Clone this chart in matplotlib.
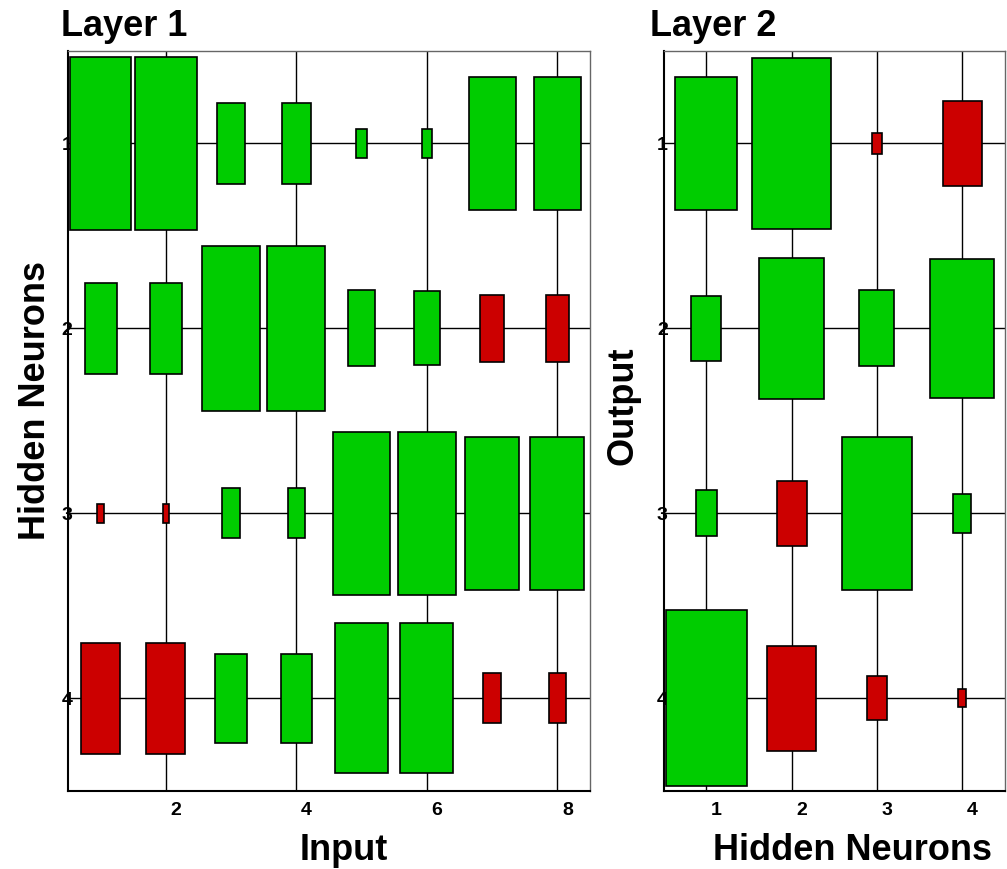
import numpy as np
import matplotlib.pyplot as plt
from matplotlib.patches import Rectangle
from matplotlib.transforms import ScaledTranslation

plt.rcParams['font.family'] = ['Liberation Sans', 'DejaVu Sans']

# signed box sizes (side length in data units), rows = neuron, cols = input
layer1 = np.array([
    [0.94, 0.94, 0.44, 0.44, 0.16, 0.16, 0.72, 0.72],
    [0.49, 0.49, 0.89, 0.89, 0.41, 0.40, -0.36, -0.36],
    [-0.10, -0.10, 0.27, 0.27, 0.88, 0.88, 0.83, 0.83],
    [-0.60, -0.60, 0.48, 0.48, 0.81, 0.81, -0.27, -0.27],
])
layer2 = np.array([
    [0.72, 0.92, -0.11, -0.46],
    [0.35, 0.76, 0.41, 0.75],
    [0.25, -0.35, 0.83, 0.21],
    [0.95, -0.57, -0.24, -0.095],
])
layer1_xticks = [2, 4, 6, 8]
layer2_xticks = [1, 2, 3, 4]
yticks = [1, 2, 3, 4]

green = '#00cc00'
red = '#cc0000'

fig = plt.figure(figsize=(10.07, 8.69), dpi=100)
ax1 = fig.add_axes([0.0675, 0.0901, 0.5184, 0.8512])
ax2 = fig.add_axes([0.6589, 0.0901, 0.3391, 0.8512])


def hinton(ax, w, xticks, title, xlabel, ylabel, title_x, xlab_x, ylab_x, ylab_y):
    nrow, ncol = w.shape
    for i in range(nrow):
        for j in range(ncol):
            v = w[i, j]
            s = abs(v)
            c = green if v > 0 else red
            ax.add_patch(Rectangle((j + 1 - s / 2, i + 1 - s / 2), s, s,
                                   facecolor=c, edgecolor='black', lw=1.2, zorder=3))
    ax.set_xlim(0.5, ncol + 0.5)
    ax.set_ylim(nrow + 0.5, 0.5)
    ax.set_xticks(xticks)
    ax.set_yticks(yticks)
    ax.set_axisbelow(True)
    ax.grid(True, color='black', lw=1)
    ax.tick_params(length=0, labelsize=14)
    ax.tick_params(axis='x', pad=8)
    ax.tick_params(axis='y', pad=-3)
    for lab in ax.get_xticklabels() + ax.get_yticklabels():
        lab.set_fontweight('bold')
    off = ScaledTranslation(0.10, 0, fig.dpi_scale_trans)
    for lab in ax.get_xticklabels():
        lab.set_transform(lab.get_transform() + off)
    ax.spines['left'].set_linewidth(1.5)
    ax.spines['bottom'].set_linewidth(1.5)
    for sp in ['top', 'right']:
        ax.spines[sp].set_color('#666666')
        ax.spines[sp].set_linewidth(1)
    ax.set_title(title, loc='left', x=title_x, pad=11, fontsize=26, fontweight='bold')
    ax.set_xlabel(xlabel, fontsize=26, fontweight='bold')
    ax.set_ylabel(ylabel, fontsize=26, fontweight='bold')
    ax.xaxis.set_label_coords(xlab_x, -0.057)
    ax.yaxis.set_label_coords(ylab_x, ylab_y)


hinton(ax1, layer1, layer1_xticks, 'Layer 1', 'Input', 'Hidden Neurons',
       -0.0134, 0.529, -0.028, 0.527)
hinton(ax2, layer2, layer2_xticks, 'Layer 2', 'Hidden Neurons', 'Output',
       -0.0395, 0.552, -0.066, 0.520)

fig.savefig('out.png', dpi=100)
